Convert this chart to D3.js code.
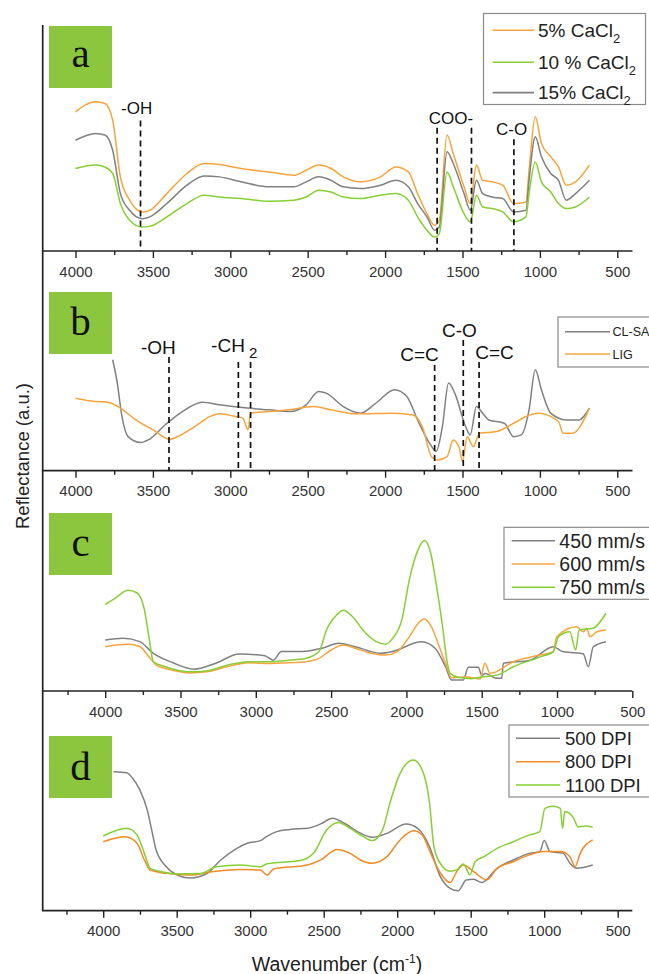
<!DOCTYPE html>
<html>
<head>
<meta charset="utf-8">
<script src="https://cdn.jsdelivr.net/npm/d3@7"></script>
<style>
body{margin:0;background:#fff;}
svg{display:block;font-family:"Liberation Sans",Arial,sans-serif;}
</style>
</head>
<body>
<svg id="svg1" width="649" height="974"></svg>
<script>
// ---- data (wavenumber cm-1 / reflectance a.u., 0-100 per panel) ----
var majorTicks = [4000, 3500, 3000, 2500, 2000, 1500, 1000, 500];
var minorTicks = [4250, 3750, 3250, 2750, 2250, 1750, 1250, 750];

// panel a : CaCl2 concentration
var aWave = [4000,3870,3810,3760,3710,3650,3570,3520,3410,3280,3170,3070,2930,2750,2590,2510,2430,2350,2270,2160,2030,1930,1850,1790,1730,1680,1650,1600,1560,1490,1450,1410,1370,1310,1240,1170,1090,1070,1030,990,930,880,830,770,680];
var a5 = [61.6,66.0,65.3,57.9,32.8,22.5,17.3,18.0,25.4,34.3,38.7,38.3,36.5,35.0,33.5,35.7,38.0,36.5,32.8,30.6,32.8,37.2,35.0,25.4,16.5,11.4,13.6,51.3,43.1,28.4,21.0,38.0,31.3,30.6,29.1,21.0,21.7,35.7,59.4,47.6,41.7,37.2,29.1,30.6,38.0];
var a10 = [36.5,38.0,37.2,34.3,21.0,13.6,10.6,10.9,15.1,21.0,24.7,23.9,23.2,22.0,22.5,23.9,26.9,26.1,23.9,23.2,24.7,25.4,22.5,15.1,9.2,6.2,7.7,35.0,28.4,16.5,12.9,24.7,19.5,18.8,17.3,12.9,15.1,25.4,39.4,30.6,26.1,21.0,18.8,19.5,23.9];
var a15 = [49.0,52.0,51.3,44.6,25.4,18.0,14.3,15.1,21.0,29.1,33.2,32.8,30.6,28.4,28.4,30.6,32.8,31.3,28.4,27.6,29.1,31.3,28.4,21.0,15.1,9.2,10.6,43.9,38.7,25.4,18.0,31.3,25.4,23.9,23.2,17.3,18.0,31.3,50.5,41.7,34.3,31.3,22.5,25.4,31.3];
var aPeaks = [3580, 1664, 1442, 1168];
var aPeakTops = [57.7, 54.5, 54.5, 49.5];
var aNames = ['-OH', 'COO-', 'C-O'];
var aNameWave = [3605, 1575, 1183];
var aNameLevel = [60.4, 56.0, 51.5];

// panel b : CL-SA vs LIG
var bWaveCL = [3760,3730,3700,3660,3580,3530,3420,3310,3180,3070,2890,2750,2620,2510,2430,2380,2270,2160,2060,1940,1860,1790,1710,1670,1630,1590,1550,1480,1450,1410,1370,1330,1230,1170,1120,1070,1030,990,930,830,750,680];
var bCL = [50.5,39.9,24.7,15.5,12.8,14.0,20.9,26.9,31.2,30.0,28.5,27.7,26.9,30.0,36.1,35.3,29.2,26.2,30.7,36.8,33.8,23.1,12.2,8.7,20.1,39.9,35.3,20.1,16.3,29.2,26.2,23.1,21.6,15.5,16.3,27.7,46.0,36.8,26.2,23.1,23.1,28.5];
var bWaveLIG = [4000,3870,3790,3710,3610,3500,3390,3340,3230,3130,3070,2970,2920,2885,2870,2750,2620,2460,2350,2190,1950,1820,1760,1700,1660,1600,1560,1520,1500,1470,1430,1390,1280,1170,1090,1010,880,850,790,680];
var bLIG = [33.0,31.5,31.2,28.5,23.1,18.6,14.3,15.5,20.1,24.7,25.9,24.7,23.9,18.6,26.2,26.9,27.7,29.2,27.7,25.9,26.2,25.4,20.1,6.4,4.9,6.4,14.0,10.2,4.1,15.5,11.0,17.0,17.8,21.6,24.7,26.2,22.4,17.0,17.0,28.5];
var bPeaks = [3396, 2948, 2869, 1680, 1495, 1393];
var bPeakTops = [51.8, 49.5, 49.5, 48.1, 59.5, 49.5];
var bNames = ['-OH', '-CH', 'C=C', 'C-O', 'C=C'];
var bNameWave = [3465, 2975, 1778, 1520, 1293];
var bNameLevel = [53.1, 54.0, 49.9, 60.9, 50.8];

// panel c : scan speed
var cWave450 = [4000,3880,3770,3680,3550,3410,3270,3110,2940,2885,2830,2690,2560,2450,2340,2170,2060,1950,1900,1810,1740,1700,1622,1589,1522,1500,1478,1400,1367,1356,1179,1025,958,869,825,792,759,675];
var c450 = [23.2,24.0,22.4,17.1,12.8,9.9,12.5,16.8,16.0,14.0,17.9,17.9,19.4,21.7,20.1,17.1,18.6,21.7,22.4,19.4,11.0,5.0,5.0,10.8,10.8,7.0,8.0,5.8,5.8,12.6,14.0,20.1,17.8,17.3,16.8,11.0,20.1,22.4];
var cWave600 = [4000,3850,3770,3710,3660,3550,3440,3330,3190,3050,2910,2780,2670,2580,2500,2420,2340,2250,2140,2060,1980,1920,1880,1830,1790,1740,1700,1600,1510,1478,1445,1290,1113,1025,1002,869,825,803,781,736,675];
var c600 = [20.1,21.2,20.1,15.6,11.7,9.4,8.2,8.7,11.0,12.8,12.5,12.8,13.3,14.8,18.6,20.9,19.4,17.4,16.3,17.9,24.7,30.9,32.7,28.6,21.7,12.5,6.0,6.4,5.5,12.6,8.0,13.3,16.3,17.8,24.6,29.2,26.9,28.5,24.6,26.9,27.7];
var cWave750 = [4000,3930,3850,3790,3740,3710,3680,3600,3440,3330,3190,3050,2910,2780,2670,2580,2530,2460,2420,2360,2280,2200,2140,2090,2030,1980,1920,1880,1840,1800,1760,1730,1710,1650,1570,1490,1400,1290,1110,1025,990,915,876,853,760,675];
var c750 = [39.3,42.3,45.7,44.6,37.0,24.7,13.3,11.0,8.7,9.1,11.7,13.3,13.3,14.0,14.8,17.9,27.8,34.7,36.7,33.9,27.0,22.4,21.2,24.0,32.4,50.7,64.5,68.3,63.0,47.7,29.3,13.3,8.0,6.1,5.6,6.5,7.2,11.0,15.5,17.8,24.6,26.9,18.6,27.7,28.5,35.3];

// panel d : resolution
var dWave500 = [3930,3840,3800,3750,3700,3670,3640,3570,3480,3410,3300,3200,3110,3020,2930,2890,2820,2730,2610,2520,2440,2360,2270,2170,2070,1940,1860,1780,1710,1640,1585,1530,1480,1425,1320,1210,1100,1030,1000,960,870,825,780,670];
var d500 = [63.3,62.8,60.3,54.9,45.8,36.7,27.6,20.0,15.8,14.9,16.7,23.1,27.6,30.7,31.9,33.7,36.0,37.0,37.5,39.5,42.1,39.8,36.0,33.4,35.2,39.5,37.5,29.1,16.0,10.2,9.1,14.0,14.3,12.8,19.3,23.1,26.1,26.9,31.9,26.9,26.1,21.6,19.3,20.8];
var dWave800 = [4000,3850,3770,3720,3680,3570,3410,3250,3070,2930,2886,2840,2610,2520,2410,2320,2250,2170,2070,1980,1890,1830,1775,1710,1640,1595,1550,1480,1390,1320,1210,1100,1005,890,825,790,755,670];
var d800 = [31.4,33.7,30.7,23.1,18.5,17.0,16.2,17.8,18.8,18.5,16.2,19.0,20.8,23.1,27.9,26.1,23.1,21.6,24.6,32.2,36.4,34.5,26.5,17.5,12.8,17.8,20.8,17.8,14.0,19.3,22.3,25.4,26.9,26.9,24.6,20.0,26.1,32.2];
var dWave1100 = [4000,3840,3770,3720,3680,3610,3500,3340,3230,3070,2930,2890,2660,2570,2480,2400,2320,2230,2170,2100,2050,1980,1890,1840,1780,1750,1700,1640,1595,1550,1505,1470,1410,1320,1210,1100,1030,995,940,890,875,860,800,770,720,670];
var d1100 = [34.0,37.5,34.5,26.1,19.3,17.8,16.7,16.9,20.0,20.8,20.0,21.3,22.8,26.1,36.7,40.1,37.5,33.7,31.9,36.7,48.9,62.5,68.6,65.5,48.9,29.1,20.8,18.0,18.5,21.3,16.3,22.3,24.6,28.4,31.4,34.5,36.0,46.6,47.5,46.6,37.5,45.1,42.1,38.2,38.5,38.0];

// ---- styles ----
var orange = '#f7a43c', orangeD = '#f28a26', green = '#86cf34', gray = '#808080';
var boxGreen = '#8cc63f';
var axisX = 42.7;

var svg = d3.select('#svg1');

var panels = [
  {top:25, bottom:251, x4000:75.5, x500:617.3, xEnd:632.5, letter:'a', boxY:26, letterDy:41,
   series:[[aWave,a5,orange],[aWave,a15,gray],[aWave,a10,green]],
   legend:{x:483.5, y:13.5, w:162, h:91, l0:492.6, l1:534, tx:538, rows:[30.3,62.3,92.6], size:19,
           items:[['5% CaCl','2',orange],['10 % CaCl','2',green],['15% CaCl','2',gray]]}},
  {top:251, bottom:470.7, x4000:75.5, x500:617.3, xEnd:632.5, letter:'b', boxY:292, letterDy:43,
   series:[[bWaveCL,bCL,gray],[bWaveLIG,bLIG,orange]],
   legend:{x:558, y:317, w:95, h:50, l0:565, l1:610, tx:612.5, rows:[331.7,354], size:12.5,
           items:[['CL-SA','',gray],['LIG','',orange]]}},
  {top:470.7, bottom:691, x4000:105.2, x500:632.3, xEnd:632.3, letter:'c', boxY:513, letterDy:43,
   series:[[cWave450,c450,gray],[cWave600,c600,orange],[cWave750,c750,green]],
   legend:{x:504, y:527.3, w:150, h:72, l0:511.7, l1:555, tx:559.3, rows:[540.7,564,587.3], size:19.5,
           items:[['450 mm/s','',gray],['600 mm/s','',orange],['750 mm/s','',green]]}},
  {top:691, bottom:910.7, x4000:103.2, x500:617.7, xEnd:632.3, letter:'d', boxY:736, letterDy:44,
   series:[[dWave500,d500,gray],[dWave800,d800,orangeD],[dWave1100,d1100,green]],
   legend:{x:509, y:725, w:145, h:72, l0:516, l1:560, tx:565, rows:[738.3,761.7,785], size:18.5,
           items:[['500 DPI','',gray],['800 DPI','',orangeD],['1100 DPI','',green]]}}
];

panels.forEach(function(p){
  var x = d3.scaleLinear().domain([4000, 500]).range([p.x4000, p.x500]);
  var y = d3.scaleLinear().domain([0, 100]).range([p.bottom, p.top]);
  var g = svg.append('g');

  // left axis segment
  g.append('line').attr('x1', axisX).attr('x2', axisX).attr('y1', p.top).attr('y2', p.bottom)
    .attr('stroke', '#222').attr('stroke-width', 1.7);

  // bottom axis
  var ax = g.append('g').attr('transform', 'translate(0,' + p.bottom + ')')
    .call(d3.axisBottom(x).tickValues(majorTicks).tickFormat(d3.format('d'))
      .tickSizeInner(7).tickSizeOuter(0).tickPadding(8));
  ax.select('.domain').remove();
  ax.selectAll('line').attr('stroke', '#222').attr('stroke-width', 1.4);
  ax.selectAll('text').attr('font-size', 15).attr('fill', '#333')
    .attr('font-family', '"Liberation Sans",Arial,sans-serif');

  var mx = g.append('g').attr('transform', 'translate(0,' + p.bottom + ')')
    .call(d3.axisBottom(x).tickValues(minorTicks.filter(function(t){
        return x(t) > axisX + 3 && x(t) <= p.xEnd; }))
      .tickSizeInner(4).tickSizeOuter(0).tickFormat(''));
  mx.select('.domain').remove();
  mx.selectAll('line').attr('stroke', '#222').attr('stroke-width', 1.4);

  g.append('line').attr('x1', axisX - 0.8).attr('x2', p.xEnd).attr('y1', p.bottom).attr('y2', p.bottom)
    .attr('stroke', '#222').attr('stroke-width', 1.7);

  // spectra
  var line = d3.line().curve(d3.curveMonotoneX)
    .x(function(d){ return x(d[0]); }).y(function(d){ return y(d[1]); });
  p.series.forEach(function(s){
    g.append('path').datum(d3.zip(s[0], s[1]))
      .attr('d', line).attr('fill', 'none').attr('stroke', s[2])
      .attr('stroke-width', 1.5).attr('stroke-linejoin', 'round');
  });

  // letter box
  g.append('rect').attr('x', 49).attr('y', p.boxY).attr('width', 63).attr('height', 62).attr('fill', boxGreen);
  g.append('text').attr('x', 80.5).attr('y', p.boxY + p.letterDy).attr('text-anchor', 'middle')
    .attr('font-family', '"Liberation Serif","Times New Roman",serif').attr('font-size', 41)
    .attr('fill', '#111').text(p.letter);

  // legend
  var L = p.legend;
  g.append('rect').attr('x', L.x).attr('y', L.y).attr('width', L.w).attr('height', L.h)
    .attr('fill', '#fff').attr('stroke', '#8a8a8a').attr('stroke-width', 1.2);
  L.items.forEach(function(it, i){
    var ry = L.rows[i];
    g.append('line').attr('x1', L.l0).attr('x2', L.l1).attr('y1', ry).attr('y2', ry)
      .attr('stroke', it[2]).attr('stroke-width', 1.6);
    var t = g.append('text').attr('x', L.tx).attr('y', ry + L.size * 0.36)
      .attr('font-size', L.size).attr('fill', '#222').text(it[0]);
    if (it[1]) t.append('tspan').attr('dy', L.size * 0.3).attr('font-size', L.size * 0.68).text(it[1]);
  });

  p.x = x; p.y = y; p.g = g;
});

// ---- peak annotations ----
function dashed(p, wn, top){
  p.g.append('line').attr('x1', p.x(wn)).attr('x2', p.x(wn))
    .attr('y1', p.y(top)).attr('y2', p.y(0))
    .attr('stroke', '#111').attr('stroke-width', 1.7).attr('stroke-dasharray', '6,4');
}
function label(p, wn, lv, txt, size){
  return p.g.append('text').attr('x', p.x(wn)).attr('y', p.y(lv)).attr('text-anchor', 'middle')
    .attr('font-size', size).attr('fill', '#111').text(txt);
}

var pa = panels[0];
aPeaks.forEach(function(w, i){ dashed(pa, w, aPeakTops[i]); });
aNames.forEach(function(n, i){ label(pa, aNameWave[i], aNameLevel[i], n, 17); });

var pb = panels[1];
bPeaks.forEach(function(w, i){ dashed(pb, w, bPeakTops[i]); });
bNames.forEach(function(n, i){
  var t = label(pb, bNameWave[i], bNameLevel[i], n, 19);
  if (n === '-CH') t.append('tspan').attr('dx', 4).attr('dy', 6).attr('font-size', 15).text('2');
});

// ---- axis titles ----
svg.append('text').attr('transform', 'translate(29.3,456) rotate(-90)').attr('text-anchor', 'middle')
  .attr('font-size', 18.5).attr('fill', '#222').text('Reflectance (a.u.)');

var xt = svg.append('text').attr('x', 337).attr('y', 970.5).attr('text-anchor', 'middle')
  .attr('font-size', 19.5).attr('fill', '#222').text('Wavenumber (cm');
xt.append('tspan').attr('dy', -8).attr('font-size', 12).text('-1');
xt.append('tspan').attr('dy', 8).text(')');
</script>
</body>
</html>
